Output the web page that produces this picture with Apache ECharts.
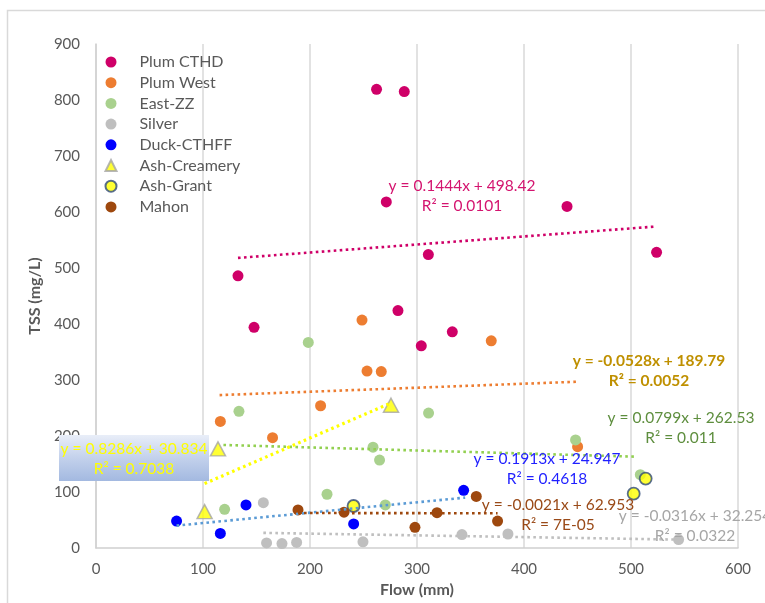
<!DOCTYPE html>
<html>
<head>
<meta charset="utf-8">
<script src="https://cdn.jsdelivr.net/npm/echarts@6/dist/echarts.min.js"></script>
<style>
html,body{margin:0;padding:0;background:#fff;}
#chart{width:765px;height:603px;}
</style>
</head>
<body>
<div id="chart"></div>
<script>
// ---- Data (Flow mm, TSS mg/L) ----
const seriesNames = ['Plum CTHD','Plum West','East-ZZ','Silver','Duck-CTHFF','Ash-Creamery','Ash-Grant','Mahon'];

const plumCTHD = [[132.7,486],[147.7,394],[262.2,819],[271.3,618],[282.2,424],[288.1,815],[304,361],[310.6,524],[333,386],[440.2,610],[523.9,528]];
const plumWest = [[116.2,226],[165,197],[209.9,254],[248.6,407],[253.3,316],[266.6,315],[369.4,370],[450.1,181]];
const eastZZ = [[120.2,69],[133.6,244],[198.4,367],[215.9,96],[258.9,180],[265,157],[270.4,77],[310.8,241],[448.2,193],[508.7,131]];
const silver = [[156.4,81],[159.4,9],[173.8,8],[187.5,10],[249.5,11],[342,24],[385,25],[544.5,15]];
const duckCTHFF = [[75.3,48],[116.2,26],[140.2,77],[240.8,43],[343.6,103]];
const ashCreamery = [[101.5,65],[114,177],[275.7,255]];
const ashGrant = [[240.7,75],[502.5,97],[513.7,124]];
const mahon = [[188.8,68],[231.8,64],[298.1,37],[318.7,63],[355.4,92],[375.3,48]];

// Trendline end points
const trendPlumCTHD = [[132.7,518],[522.7,574]];
const trendPlumWest = [[115.5,273],[450.4,297]];
const trendEastZZ = [[119.1,184],[505,163]];
const trendSilver = [[156.4,27],[544.5,15]];
const trendDuck = [[75.3,40],[345,90]];
const trendAshCreamery = [[101.5,115],[275.7,259]];
const trendMahon = [[188.8,62.5],[375.3,62]];

// Trendline equation labels (text as shown)
const eqLabels = [
  ['y = 0.1444x + 498.42','R² = 0.0101'],
  ['y = -0.0528x + 189.79','R² = 0.0052'],
  ['y = 0.0799x + 262.53','R² = 0.011'],
  ['y = 0.1913x + 24.947','R² = 0.4618'],
  ['y = -0.0021x + 62.953','R² = 7E-05'],
  ['y = -0.0316x + 32.254','R² = 0.0322'],
  ['y = 0.8286x + 30.834','R² = 0.7038']
];

const xTicks = [0,100,200,300,400,500,600];
const yTicks = [0,100,200,300,400,500,600,700,800,900];

// ---- Chart ----
const chart = echarts.init(document.getElementById('chart'), null, {renderer:'canvas'});
const FONT = 'Lato, Carlito, Calibri, sans-serif';
const grey = '#595959';

function scat(name, data, color, opts) {
  return Object.assign({
    name, type:'scatter', data, symbol:'circle', symbolSize:11,
    itemStyle:{color, opacity:1}, z:3, emphasis:{disabled:true}
  }, opts || {});
}
function trend(data, color, width) {
  return {
    type:'line', data, symbol:'none', silent:true, z:4,
    lineStyle:{color, width: width || 2.6, type:[2.6,3.4], cap:'butt'},
    tooltip:{show:false}
  };
}

const labelDefs = [
  {i:0, cx:462, y:186, color:'#D4146F', bold:false},
  {i:1, cx:649, y:361, color:'#BF9000', bold:true},
  {i:2, cx:681, y:418, color:'#5E8E3E', bold:false},
  {i:3, cx:547, y:459, color:'#1F1FFF', bold:false},
  {i:4, cx:558, y:505, color:'#9A4A18', bold:false},
  {i:5, cx:695, y:516, color:'#A6A6A6', bold:false},
  {i:6, cx:134, y:449, color:'#FFFF00', bold:false}
];

const graphics = [
  {type:'rect', shape:{x:7.5,y:10.5,width:800,height:700}, style:{fill:'none', stroke:'#D9D9D9', lineWidth:1.5}, z:0, silent:true},
  {type:'rect', shape:{x:59,y:435,width:150,height:46},
   style:{fill:new echarts.graphic.LinearGradient(0,0,0,1,[{offset:0,color:'#E9EEF8'},{offset:0.5,color:'#C3D1EC'},{offset:1,color:'#A3B9E0'}])},
   z:90, silent:true}
];
labelDefs.forEach(d => {
  eqLabels[d.i].forEach((t, k) => {
    graphics.push({type:'text', x:d.cx, y:d.y + k*20.3, z:100, silent:true,
      style:{text:t, align:'center', verticalAlign:'middle', fill:d.color,
        font:(d.bold?'bold ':'') + '15.5px ' + FONT}});
  });
});

chart.setOption({
  animation:false,
  backgroundColor:'#fff',
  grid:{left:96, right:27, top:44, bottom:54, containLabel:false},
  xAxis:{
    type:'value', min:0, max:600, interval:100,
    name:'Flow (mm)', nameLocation:'middle', nameGap:34,
    nameTextStyle:{color:grey, fontFamily:FONT, fontSize:16, fontWeight:'bold'},
    axisLine:{show:true, onZero:false, lineStyle:{color:'#D0D0D0', width:1.5}},
    axisTick:{show:false},
    axisLabel:{color:grey, fontFamily:FONT, fontSize:15, margin:14, formatter:v => xTicks.includes(v) ? String(v) : ''},
    splitLine:{show:true, lineStyle:{color:'#D9D9D9', width:1.5}}
  },
  yAxis:{
    type:'value', min:0, max:900, interval:100,
    name:'TSS (mg/L)', nameLocation:'middle', nameGap:49, nameRotate:90,
    nameTextStyle:{color:grey, fontFamily:FONT, fontSize:16, fontWeight:'bold'},
    axisLine:{show:true, onZero:false, lineStyle:{color:'#D0D0D0', width:1.5}},
    axisTick:{show:false},
    axisLabel:{color:grey, fontFamily:FONT, fontSize:15, margin:16, formatter:v => yTicks.includes(v) ? String(v) : ''},
    splitLine:{show:false}
  },
  legend:{
    orient:'vertical', left:104.5, top:54, padding:0, itemWidth:11, itemHeight:11, itemGap:4.7,
    textStyle:{color:grey, fontFamily:FONT, fontSize:16, padding:[0,0,0,18]},
    selectedMode:false,
    data:[
      {name:'Plum CTHD', icon:'circle'},
      {name:'Plum West', icon:'circle'},
      {name:'East-ZZ', icon:'circle'},
      {name:'Silver', icon:'circle'},
      {name:'Duck-CTHFF', icon:'circle'},
      {name:'Ash-Creamery', icon:'triangle'},
      {name:'Ash-Grant', icon:'circle'},
      {name:'Mahon', icon:'circle'}
    ]
  },
  graphic:graphics,
  series:[
    scat(seriesNames[0], plumCTHD, '#CF0068'),
    scat(seriesNames[1], plumWest, '#ED7D31'),
    scat(seriesNames[2], eastZZ, '#A9D18E'),
    scat(seriesNames[3], silver, '#BFBFBF'),
    scat(seriesNames[4], duckCTHFF, '#0000FF'),
    scat(seriesNames[5], ashCreamery, '#FFFF00', {symbol:'triangle', symbolSize:[15,14], itemStyle:{color:'#FFFF00', borderColor:'#A5A5A5', borderWidth:1.5}}),
    scat(seriesNames[6], ashGrant, '#FFFF00', {symbolSize:12, itemStyle:{color:'#FFFF00', borderColor:'#2F4A78', borderWidth:1.8}}),
    scat(seriesNames[7], mahon, '#9E480E'),
    trend(trendPlumCTHD, '#CF0068'),
    trend(trendPlumWest, '#ED7D31'),
    trend(trendEastZZ, '#92D050'),
    trend(trendSilver, '#BFBFBF'),
    trend(trendDuck, '#5B9BD5'),
    trend(trendAshCreamery, '#FFFF00', 3.2),
    trend(trendMahon, '#9E480E')
  ]
});
</script>
</body>
</html>
